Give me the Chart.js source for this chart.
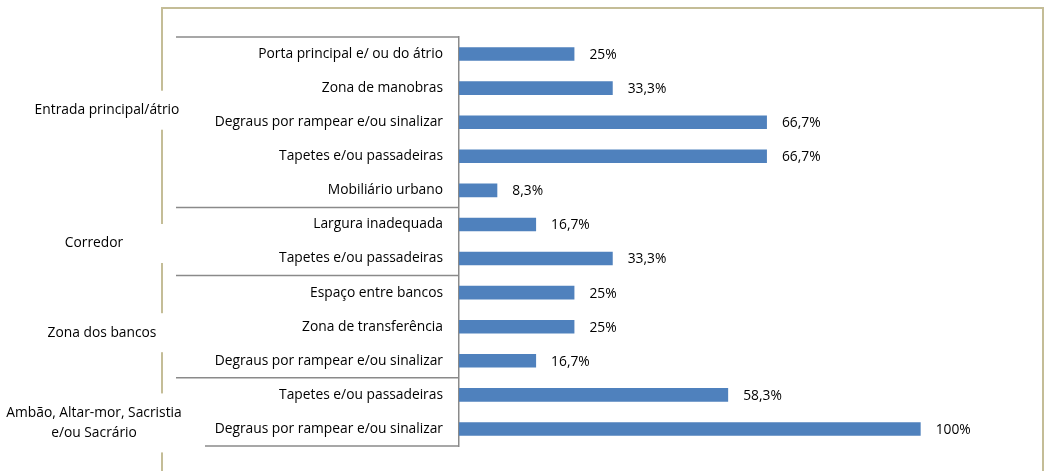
<!DOCTYPE html>
<html><head><meta charset="utf-8">
<script src="https://cdn.jsdelivr.net/npm/chart.js@4.4.1/dist/chart.umd.min.js"></script>
<style>html,body{margin:0;padding:0;background:#fff}#wrap{width:1047px;height:471px;position:relative}</style>
</head><body><div id="wrap"><canvas id="c"></canvas></div>
<script>
const categories = [
  'Porta principal e/ ou do átrio',
  'Zona de manobras',
  'Degraus por rampear e/ou sinalizar',
  'Tapetes e/ou passadeiras',
  'Mobiliário urbano',
  'Largura inadequada',
  'Tapetes e/ou passadeiras',
  'Espaço entre bancos',
  'Zona de transferência',
  'Degraus por rampear e/ou sinalizar',
  'Tapetes e/ou passadeiras',
  'Degraus por rampear e/ou sinalizar'
];
const values = [25, 33.3, 66.7, 66.7, 8.3, 16.7, 33.3, 25, 25, 16.7, 58.3, 100];
const valueLabels = ['25%','33,3%','66,7%','66,7%','8,3%','16,7%','33,3%','25%','25%','16,7%','58,3%','100%'];
const groupNames = [['Entrada principal/átrio'], ['Corredor'], ['Zona dos bancos'], ['Ambão, Altar-mor, Sacristia', 'e/ou Sacrário']];
const groupSizes = [5, 2, 3, 2];

const FONT = '"Open Sans"';
const FSIZE = 13.8;
const labelNudges = [{dx:13,dy:-12},{dx:0,dy:2},{dx:8,dy:6},{dx:0,dy:11}];

const decor = {
  id: 'decor',
  beforeDraw(chart) {
    const ctx = chart.ctx;
    ctx.save();
    ctx.strokeStyle = '#c4bd97';
    ctx.lineWidth = 2;
    ctx.strokeRect(162, 8, 881, 520);
    ctx.restore();
  },
  afterDraw(chart) {
    const ctx = chart.ctx;
    const y = chart.scales.y;
    const area = chart.chartArea;
    const half = (y.getPixelForValue(1) - y.getPixelForValue(0)) / 2;
    ctx.save();
    ctx.strokeStyle = '#8a8a8a';
    ctx.lineWidth = 1.5;
    let idx = 0;
    const bounds = [];
    ctx.beginPath();
    ctx.moveTo(176, area.top);
    ctx.lineTo(area.left, area.top);
    for (let g = 0; g < groupSizes.length; g++) {
      const start = idx;
      idx += groupSizes[g];
      const top = y.getPixelForValue(start) - half;
      const bot = y.getPixelForValue(idx - 1) + half;
      bounds.push([top, bot]);
      const x0 = g === groupSizes.length - 1 ? 205 : 176;
      ctx.moveTo(x0, bot);
      ctx.lineTo(area.left, bot);
    }
    ctx.stroke();
    ctx.font = FSIZE + 'px ' + FONT;
    ctx.textAlign = 'center';
    ctx.textBaseline = 'middle';
    for (let g = 0; g < groupNames.length; g++) {
      const lines = groupNames[g];
      const cy = (bounds[g][0] + bounds[g][1]) / 2 + labelNudges[g].dy;
      const lh = 20;
      const h = lines.length * lh + 19;
      ctx.fillStyle = '#ffffff';
      ctx.fillRect(150, cy - h / 2, 25, h);
      ctx.fillStyle = '#000000';
      lines.forEach((t, i) => {
        ctx.fillText(t, 94 + labelNudges[g].dx, cy + (i - (lines.length - 1) / 2) * lh);
      });
    }
    ctx.restore();
  },
  afterDatasetsDraw(chart) {
    const ctx = chart.ctx;
    const meta = chart.getDatasetMeta(0);
    ctx.save();
    ctx.font = FSIZE + 'px ' + FONT;
    ctx.fillStyle = '#000000';
    ctx.textAlign = 'left';
    ctx.textBaseline = 'middle';
    meta.data.forEach((bar, i) => {
      ctx.fillText(valueLabels[i], bar.x + 15, bar.y + 1);
    });
    ctx.restore();
  }
};

new Chart(document.getElementById('c'), {
  type: 'bar',
  data: {
    labels: categories,
    datasets: [{
      data: values,
      backgroundColor: '#4f81bd',
      borderWidth: 0,
      categoryPercentage: 1,
      barPercentage: 0.4
    }]
  },
  options: {
    indexAxis: 'y',
    responsive: true,
    maintainAspectRatio: false,
    animation: false,
    layout: { padding: { top: 37, bottom: 25, right: 34, left: 0 } },
    plugins: { legend: { display: false }, tooltip: { enabled: false } },
    scales: {
      x: { display: false, min: 0, max: 120 },
      y: {
        afterFit(scale) { scale.width = 459; },
        grid: { display: false, drawTicks: false },
        border: { display: true, color: '#8a8a8a', width: 1.5 },
        ticks: { color: '#000000', padding: 16, font: { family: 'Open Sans', size: FSIZE } }
      }
    }
  },
  plugins: [decor]
});
</script>
</body></html>
